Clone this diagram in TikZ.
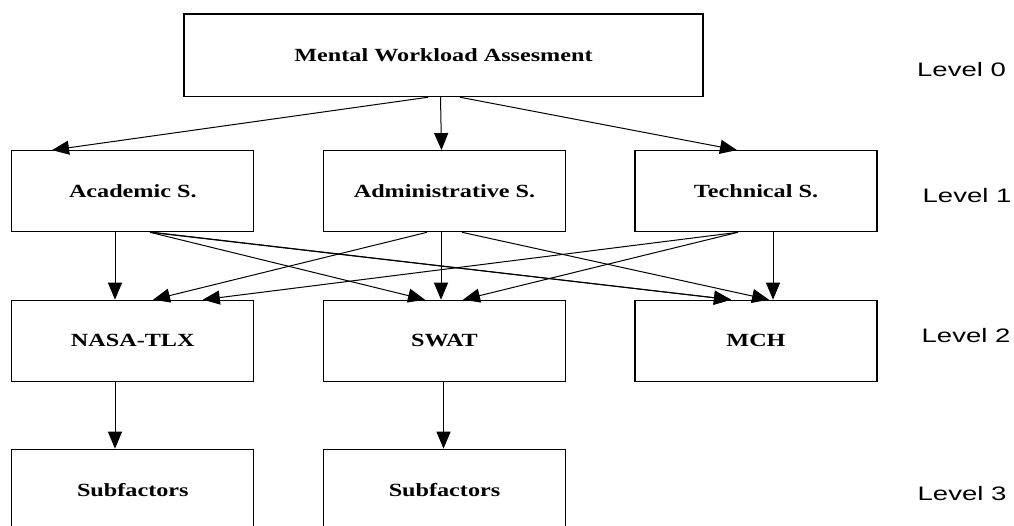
\documentclass[tikz,border=0pt]{standalone}
\usepackage{fontspec}
\usepackage{graphicx}
\setmainfont{Liberation Serif}
\newfontfamily\lvfam{Liberation Sans}
\usetikzlibrary{arrows.meta}
\newcommand\bxfont{\fontsize{18.6}{20}\selectfont\bfseries}
\newcommand\lvfont{\lvfam\fontsize{19.5}{21}\selectfont}
\newcommand\sxw[1]{\scalebox{1.3}[1]{#1}}
\newcommand\sxl[1]{\scalebox{1.41}[1]{#1}}
\tikzset{
  box/.style={draw, line width=1.2pt, minimum width=242pt, minimum height=81pt, inner sep=0pt, font=\bxfont},
  arr/.style={-{Triangle[length=17pt,width=14pt]}, line width=1pt},
  lvl/.style={font=\lvfont, inner sep=0pt}
}
\begin{document}
\begin{tikzpicture}[x=1pt,y=-1pt]
\useasboundingbox (0,0) rectangle (1014,526);
\clip (0,0) rectangle (1014,526);
% nodes
\node[box, minimum width=519pt, minimum height=82.7pt] (top) at (443.5,55.3) {\sxw{Mental Workload Assesment}};
\node[box] (acad) at (132.8,191.2) {\sxw{Academic S.}};
\node[box] (admin) at (444.5,191.2) {\sxw{Administrative S.}};
\node[box] (tech) at (756,191.2) {\sxw{Technical S.}};
\node[box] (nasa) at (132.8,340.8) {\sxw{NASA-TLX}};
\node[box] (swat) at (444.5,340.8) {\sxw{SWAT}};
\node[box] (mch) at (756,340.8) {\sxw{MCH}};
\node[box] (sub1) at (132.8,489.8) {\sxw{Subfactors}};
\node[box] (sub2) at (444.5,489.8) {\sxw{Subfactors}};
% level labels
\node[lvl] (l0) at (961.5,70) {\sxl{Level 0}};
\node[lvl] (l1) at (967,196) {\sxl{Level 1}};
\node[lvl] (l2) at (966,336) {\sxl{Level 2}};
\node[lvl] (l3) at (962,494) {\sxl{Level 3}};
% level 0 -> 1
\draw[arr] ([xshift=-15.5pt]top.south) -- ([xshift=-80.8pt]acad.north);
\draw[arr] ([xshift=-3pt]top.south) -- ([xshift=-3pt]admin.north);
\draw[arr] ([xshift=16.5pt]top.south) -- ([xshift=-19pt]tech.north);
% level 1 -> 2
\draw[arr] ([xshift=-17.8pt]acad.south) -- ([xshift=-17.8pt]nasa.north);
\draw[arr] ([xshift=17.2pt]acad.south) -- ([xshift=-19.5pt]swat.north);
\draw[arr] ([xshift=17.2pt]acad.south) -- ([xshift=-25pt]mch.north);
\draw[arr] ([xshift=20pt]acad.south) -- ([xshift=-25pt]mch.north);
\draw[arr] ([xshift=-17.5pt]admin.south) -- ([xshift=20.2pt]nasa.north);
\draw[arr] ([xshift=-3.5pt]admin.south) -- ([xshift=-3.5pt]swat.north);
\draw[arr] ([xshift=17.5pt]admin.south) -- ([xshift=13pt]mch.north);
\draw[arr] ([xshift=-18pt]tech.south) -- ([xshift=70pt]nasa.north);
\draw[arr] ([xshift=-18pt]tech.south) -- ([xshift=18.5pt]swat.north);
\draw[arr] ([xshift=17pt]tech.south) -- ([xshift=17pt]mch.north);
% level 2 -> 3
\draw[arr] ([xshift=-17.8pt]nasa.south) -- ([xshift=-17.8pt]sub1.north);
\draw[arr] ([xshift=-1pt]swat.south) -- ([xshift=-1pt]sub2.north);
\end{tikzpicture}
\end{document}
